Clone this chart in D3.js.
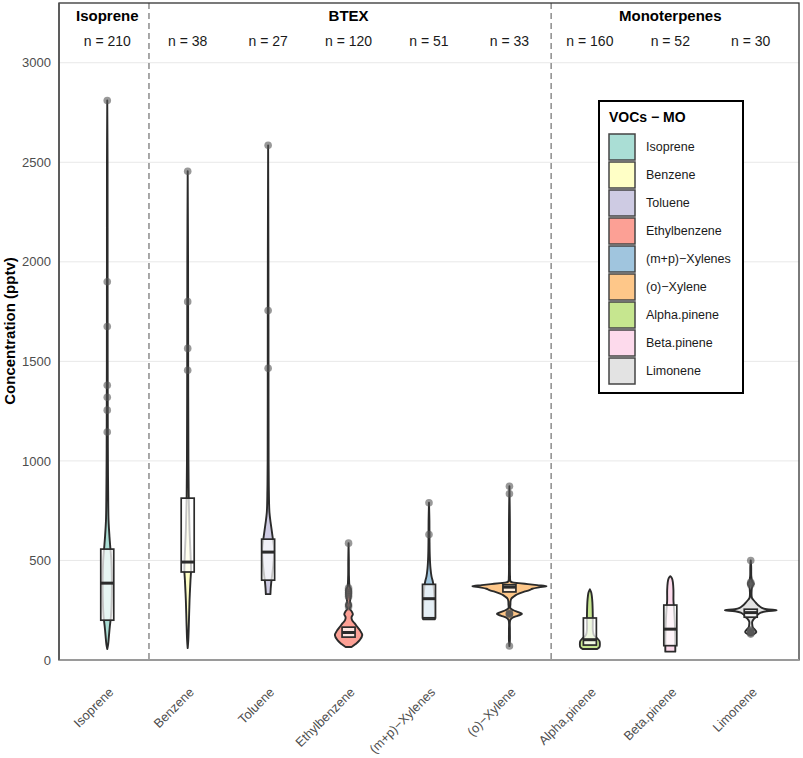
<!DOCTYPE html>
<html>
<head>
<meta charset="utf-8">
<script src="https://cdn.jsdelivr.net/npm/d3@7"></script>
<style>
  body { margin: 0; background: #fff; }
  text { font-family: "Liberation Sans", Arial, sans-serif; }
</style>
</head>
<body>
<div class="grafico"></div>
<script>
// categorias y grupos
var compuestos = ["Isoprene", "Benzene", "Toluene", "Ethylbenzene", "(m+p)\u2212Xylenes",
  "(o)\u2212Xylene", "Alpha.pinene", "Beta.pinene", "Limonene"];
var grupos = ["Isoprene", "BTEX", "Monoterpenes"];
var grupoDe = [0, 1, 1, 1, 1, 1, 2, 2, 2];
var conteos = [210, 38, 27, 120, 51, 33, 160, 52, 30];

// cajas (pptv)
var q1 = [200, 442, 401, 115, 212, 342, 75, 72, 215];
var mediana = [386, 492, 542, 138, 308, 366, 102, 155, 238];
var q3 = [557, 813, 607, 165, 380, 378, 211, 276, 255];

// valores atipicos (pptv)
var atipicos = [
  [2810, 1900, 1675, 1380, 1320, 1255, 1145],
  [2455, 1800, 1565, 1455],
  [2585, 1755, 1465],
  [587, 362, 350, 338, 328, 318, 278, 268],
  [790, 630],
  [873, 835, 236, 232, 228, 70],
  [],
  [],
  [500, 390, 385, 378, 150, 145, 140, 135, 130]
];

// perfiles de violin: [concentracion, densidad relativa]
var violines = [
  [[55, 0], [80, 0.025], [120, 0.045], [170, 0.07], [220, 0.1], [300, 0.12], [400, 0.125],
   [500, 0.11], [560, 0.085], [620, 0.06], [700, 0.035], [800, 0.026], [1000, 0.018],
   [1200, 0.014], [1500, 0.011], [2000, 0.009], [2500, 0.008], [2810, 0]],
  [[60, 0], [100, 0.016], [200, 0.034], [300, 0.05], [400, 0.075], [450, 0.09], [520, 0.08],
   [650, 0.05], [800, 0.03], [1000, 0.02], [1500, 0.013], [2000, 0.01], [2455, 0]],
  [[331, 0.062], [360, 0.07], [400, 0.09], [450, 0.125], [500, 0.15], [560, 0.16],
   [620, 0.12], [680, 0.075], [740, 0.036], [850, 0.02], [1000, 0.013], [1500, 0.01],
   [2000, 0.008], [2585, 0]],
  [[65, 0.08], [80, 0.19], [100, 0.3], [125, 0.37], [145, 0.32], [165, 0.24], [185, 0.16],
   [200, 0.095], [215, 0.08], [230, 0.116], [245, 0.08], [258, 0.03], [275, 0.068],
   [290, 0.04], [310, 0.05], [330, 0.068], [350, 0.068], [370, 0.027], [420, 0.011],
   [500, 0.008], [587, 0]],
  [[205, 0.16], [250, 0.16], [300, 0.15], [350, 0.135], [390, 0.108], [420, 0.068],
   [460, 0.04], [520, 0.022], [600, 0.014], [700, 0.011], [790, 0]],
  [[70, 0], [100, 0.013], [150, 0.013], [200, 0.022], [212, 0.08], [222, 0.22], [231, 0.34],
   [240, 0.24], [250, 0.108], [260, 0.027], [280, 0.027], [295, 0.03], [308, 0.05],
   [318, 0.11], [326, 0.17], [335, 0.27], [343, 0.4], [351, 0.54], [358, 0.62], [365, 0.8],
   [371, 1.0], [376, 0.75], [381, 0.5], [386, 0.25], [390, 0.08], [395, 0.03], [420, 0.016],
   [500, 0.012], [700, 0.012], [873, 0]],
  [[55, 0.19], [65, 0.26], [80, 0.27], [95, 0.26], [110, 0.19], [125, 0.108], [150, 0.08],
   [200, 0.08], [250, 0.076], [290, 0.068], [320, 0.054], [340, 0.035], [355, 0]],
  [[42, 0.135], [60, 0.135], [100, 0.135], [150, 0.13], [200, 0.12], [260, 0.1], [300, 0.085],
   [350, 0.085], [390, 0.07], [410, 0.045], [421, 0]],
  [[125, 0.014], [130, 0.08], [140, 0.15], [150, 0.12], [165, 0.054], [180, 0.04], [192, 0.04],
   [205, 0.08], [215, 0.135], [228, 0.19], [238, 0.27], [245, 0.43], [250, 0.7], [255, 0.43],
   [262, 0.3], [272, 0.22], [285, 0.15], [300, 0.08], [312, 0.032], [340, 0.022], [370, 0.04],
   [382, 0.08], [394, 0.04], [420, 0.016], [470, 0.012], [500, 0]]
];

var marcasY = [0, 500, 1000, 1500, 2000, 2500, 3000];
var colores = d3.schemeSet3.slice(0, 9);

var svg = d3.select('.grafico')
  .append('svg')
  .attr('width', 803)
  .attr('height', 758);

var izq = 59, der = 799, arriba = 3, abajo = 660;

var xScale = d3.scalePoint().domain(compuestos).range([izq, der]).padding(0.6);
var yScale = d3.scaleLinear().domain([0, 3300]).range([abajo, arriba]);
var wScale = d3.scaleLinear().domain([0, 1]).range([0, 37]);

// rejilla
svg.append('g')
  .selectAll('line')
  .data(marcasY)
  .enter()
  .append('line')
  .attr('x1', izq).attr('x2', der)
  .attr('y1', d => yScale(d)).attr('y2', d => yScale(d))
  .attr('stroke', '#e8e8e8')
  .attr('stroke-width', 1);

// eje y
const yAxis = d3.axisLeft(yScale).tickValues(marcasY).tickFormat(d3.format('d'))
  .tickSize(0).tickPadding(8);
var ejeY = svg.append('g')
  .attr('transform', 'translate(' + izq + ',0)')
  .call(yAxis);
ejeY.select('.domain').remove();
ejeY.selectAll('text')
  .attr('font-size', 13)
  .attr('fill', '#4d4d4d')
  .style('font-family', '"Liberation Sans", Arial, sans-serif');

svg.append('text')
  .attr('transform', 'translate(15,331) rotate(-90)')
  .attr('text-anchor', 'middle')
  .attr('font-size', 15)
  .attr('font-weight', 'bold')
  .attr('fill', '#000')
  .text('Concentration (pptv)');

// separadores de grupo
var separadores = [];
compuestos.forEach(function (c, i) {
  if (i > 0 && grupoDe[i] !== grupoDe[i - 1]) {
    separadores.push((xScale(compuestos[i - 1]) + xScale(c)) / 2 + 1.5);
  }
});
svg.append('g')
  .selectAll('line')
  .data(separadores)
  .enter()
  .append('line')
  .attr('x1', d => d).attr('x2', d => d)
  .attr('y1', arriba).attr('y2', abajo)
  .attr('stroke', '#8c8c8c')
  .attr('stroke-width', 1.5)
  .attr('stroke-dasharray', '6,4');

// etiquetas de grupo
grupos.forEach(function (g, gi) {
  var miembros = compuestos.filter((c, i) => grupoDe[i] === gi);
  var cx = d3.mean(miembros, c => xScale(c));
  svg.append('text')
    .attr('x', cx)
    .attr('y', 21)
    .attr('text-anchor', 'middle')
    .attr('font-size', 15)
    .attr('font-weight', 'bold')
    .attr('fill', '#000')
    .text(g);
});

svg.append('g')
  .selectAll('text')
  .data(compuestos)
  .enter()
  .append('text')
  .attr('x', d => xScale(d))
  .attr('y', 46)
  .attr('text-anchor', 'middle')
  .attr('font-size', 14)
  .attr('fill', '#1a1a1a')
  .text((d, i) => 'n = ' + conteos[i]);

// violines
var area = d3.area()
  .curve(d3.curveCatmullRom.alpha(0.5))
  .y(d => yScale(d[0]))
  .x0(d => -wScale(d[1]))
  .x1(d => wScale(d[1]));

var cajaAncho = 13;

var capas = svg.append('g')
  .selectAll('g')
  .data(compuestos)
  .enter()
  .append('g')
  .attr('transform', d => 'translate(' + xScale(d) + ',0)');

capas.append('path')
  .attr('d', (d, i) => area(violines[i]))
  .attr('fill', (d, i) => colores[i])
  .attr('fill-opacity', 0.75)
  .attr('stroke', '#2b2b2b')
  .attr('stroke-width', 1.9)
  .attr('stroke-linejoin', 'round');

capas.append('rect')
  .attr('x', -cajaAncho / 2)
  .attr('width', cajaAncho)
  .attr('y', (d, i) => yScale(q3[i]))
  .attr('height', (d, i) => yScale(q1[i]) - yScale(q3[i]))
  .attr('fill', '#ffffff')
  .attr('fill-opacity', 0.72)
  .attr('stroke', '#2b2b2b')
  .attr('stroke-width', 1.7);

capas.append('line')
  .attr('x1', -cajaAncho / 2).attr('x2', cajaAncho / 2)
  .attr('y1', (d, i) => yScale(mediana[i]))
  .attr('y2', (d, i) => yScale(mediana[i]))
  .attr('stroke', '#2b2b2b')
  .attr('stroke-width', 3);

capas.each(function (d, i) {
  d3.select(this)
    .selectAll('circle')
    .data(atipicos[i])
    .enter()
    .append('circle')
    .attr('cx', 0)
    .attr('cy', v => yScale(v))
    .attr('r', 3.8)
    .attr('fill', '#555555')
    .attr('fill-opacity', 0.6);
});

// borde del panel
svg.append('rect')
  .attr('x', izq).attr('y', arriba)
  .attr('width', der - izq).attr('height', abajo - arriba)
  .attr('fill', 'none')
  .attr('stroke', '#333')
  .attr('stroke-width', 1.3);

svg.append('line')
  .attr('x1', izq).attr('x2', der)
  .attr('y1', abajo).attr('y2', abajo)
  .attr('stroke', '#9a9a9a')
  .attr('stroke-width', 2);

svg.append('line')
  .attr('x1', izq).attr('x2', izq)
  .attr('y1', arriba).attr('y2', abajo)
  .attr('stroke', '#555')
  .attr('stroke-width', 1.5);

// etiquetas del eje x
svg.append('g')
  .selectAll('text')
  .data(compuestos)
  .enter()
  .append('text')
  .attr('transform', d => 'translate(' + (xScale(d) + 7) + ',693) rotate(-45)')
  .attr('text-anchor', 'end')
  .attr('font-size', 12.8)
  .attr('fill', '#4d4d4d')
  .text(d => d);

// leyenda
var leyenda = svg.append('g');
var paso = 28;

leyenda.append('rect')
  .attr('x', 599).attr('y', 101)
  .attr('width', 144).attr('height', 292)
  .attr('fill', '#fff')
  .attr('stroke', '#000')
  .attr('stroke-width', 2);

leyenda.append('text')
  .attr('x', 609).attr('y', 122)
  .attr('font-size', 14)
  .attr('font-weight', 'bold')
  .attr('fill', '#000')
  .text('VOCs \u2212 MO');

leyenda.selectAll('rect.clave')
  .data(compuestos)
  .enter()
  .append('rect')
  .attr('class', 'clave')
  .attr('x', 609)
  .attr('y', (d, i) => 134 + i * paso)
  .attr('width', 26)
  .attr('height', 26)
  .attr('fill', (d, i) => colores[i])
  .attr('fill-opacity', 0.75)
  .attr('stroke', '#444')
  .attr('stroke-width', 1.5);

leyenda.selectAll('text.etiqueta')
  .data(compuestos)
  .enter()
  .append('text')
  .attr('class', 'etiqueta')
  .attr('x', 646)
  .attr('y', (d, i) => 147 + i * paso)
  .attr('dy', '0.35em')
  .attr('font-size', 12.5)
  .attr('fill', '#1a1a1a')
  .text(d => d);
</script>
</body>
</html>
